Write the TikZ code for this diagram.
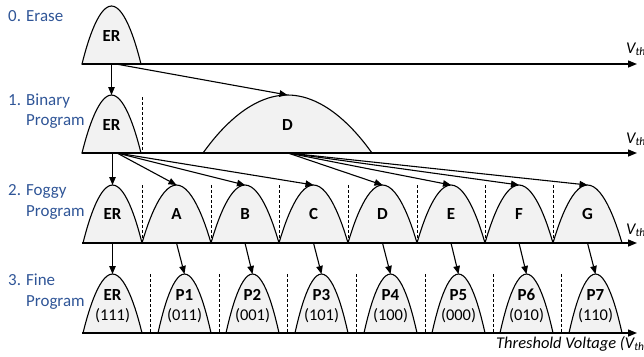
\documentclass[tikz,border=0pt]{standalone}
\usepackage{fontspec}
\setmainfont{Carlito}
\usetikzlibrary{arrows.meta,calc}
\definecolor{lblue}{RGB}{47,85,151}
\definecolor{bellfill}{RGB}{242,242,242}
\newcommand\mybell[5]{% name, x0, x1, base, top
  \coordinate (#1-t) at ({(#2+#3)/2},#5);
  \coordinate (#1-b) at ({(#2+#3)/2},#4);
  \path[bell] (#2,#4) parabola bend (#1-t) (#3,#4) -- cycle;
}
\begin{document}
\begin{tikzpicture}[x=1bp,y=-1bp,
  bell/.style={draw=black,line width=1.1bp,fill=bellfill},
  axis/.style={line width=1.4bp,-{Triangle[length=9bp,width=7bp]}},
  conn/.style={line width=1.1bp,-{Triangle[length=8bp,width=6.5bp]}},
  sep/.style={densely dashed,line width=0.9bp},
  lbl/.style={anchor=base west,inner sep=0pt,text=lblue,font=\fontsize{17}{20}\selectfont},
  blab/.style={inner sep=0pt,font=\bfseries\fontsize{17}{20}\selectfont},
  clab/.style={inner sep=0pt,font=\fontsize{16.5}{20}\selectfont},
  vlab/.style={anchor=base west,inner sep=0pt,font=\itshape\fontsize{16.5}{20}\selectfont}]
\useasboundingbox (0,0) rectangle (644,356);

% ---------- bells ----------
% row 0
\mybell{er0}{82}{141}{64}{6}
% row 1
\mybell{er1}{82}{141}{153}{95}
\mybell{d1}{203}{372}{153}{95}
% row 2
\mybell{er2}{83}{142}{243}{185}
\mybell{a2}{142}{211}{243}{185}
\mybell{b2}{211}{279}{243}{185}
\mybell{c2}{279}{348}{243}{185}
\mybell{d2}{348}{417}{243}{185}
\mybell{e2}{417}{485}{243}{185}
\mybell{f2}{485}{553}{243}{185}
\mybell{g2}{553}{622}{243}{185}
% row 3
\mybell{er3}{83}{142}{333}{274}
\mybell{p1}{158}{211}{333}{274}
\mybell{p2}{226}{279}{333}{274}
\mybell{p3}{295}{348}{333}{274}
\mybell{p4}{364}{417}{333}{274}
\mybell{p5}{432}{485}{333}{274}
\mybell{p6}{500}{553}{333}{274}
\mybell{p7}{569}{622}{333}{274}

% ---------- axes ----------
\foreach \n/\y in {0/64,1/153,2/243,3/333}{
  \coordinate (ax\n s) at (82,\y);
  \coordinate (ax\n e) at (637,\y);
  \draw[axis] (ax\n s) -- (ax\n e);
}

% ---------- dashed separators ----------
\coordinate (s1t) at (142,97); \coordinate (s1b) at (142,153);
\draw[sep] (s1t) -- (s1b);
\foreach \x [count=\i] in {142,211,279,348,417,485,553}{
  \coordinate (s2t\i) at (\x,185); \coordinate (s2b\i) at (\x,243);
  \draw[sep] (s2t\i) -- (s2b\i);
}
\foreach \x [count=\i] in {150,219,287,356,425,493,561}{
  \coordinate (s3t\i) at (\x,274); \coordinate (s3b\i) at (\x,333);
  \draw[sep] (s3t\i) -- (s3b\i);
}

% ---------- connectors ----------
\coordinate (f0) at (116,64);
\draw[conn] (er0-b) -- (er1-t);
\draw[conn] (f0) -- (d1-t);

\coordinate (f1) at (117,153);
\coordinate (er1v) at (112.5,153);
\draw[conn] (er1v) -- (er2-t);
\foreach \t in {a2,b2,c2}{\draw[conn] (f1) -- (\t-t);}
\coordinate (fd) at (288,153);
\foreach \t in {d2,e2,f2,g2}{\draw[conn] (fd) -- (\t-t);}

\draw[conn] (er2-b) -- (er3-t);
\foreach \s/\t in {a2/p1,b2/p2,c2/p3,d2/p4,e2/p5,f2/p6,g2/p7}{
  \draw[conn] (\s-b) -- (\t-t);
}

% ---------- bell labels ----------
\node[blab] (ler0) at (111.5,36) {ER};
\node[blab] (ler1) at (111.5,125) {ER};
\node[blab] (ld1) at (287.5,125) {D};
\foreach \n/\t in {er2/ER,a2/A,b2/B,c2/C,d2/D,e2/E,f2/F,g2/G}{
  \node[blab] (l\n) at ($(\n-t)+(0,29)$) {\t};
}
\foreach \n/\t/\c in {er3/ER/111,p1/P1/011,p2/P2/001,p3/P3/101,p4/P4/100,p5/P5/000,p6/P6/010,p7/P7/110}{
  \node[blab] (l\n) at ($(\n-t)+(0,21)$) {\t};
  \node[clab] (c\n) at ($(\n-t)+(0,42)$) {(\c)};
}

% ---------- axis labels ----------
\node[vlab] (v0) at (626,53) {V\textsubscript{th}};
\node[vlab] (v1) at (626,143) {V\textsubscript{th}};
\node[vlab] (v2) at (626,234) {V\textsubscript{th}};
\node[vlab] (v3) at (496,348) {Threshold Voltage (V\textsubscript{th})};

% ---------- stage labels ----------
\node[lbl] (st0) at (8,21) {\makebox[18bp][l]{0.}Erase};
\node[lbl] (st1a) at (8,105) {\makebox[18bp][l]{1.}Binary};
\node[lbl] (st1b) at (26,125) {Program};
\node[lbl] (st2a) at (8,195) {\makebox[18bp][l]{2.}Foggy};
\node[lbl] (st2b) at (26,216) {Program};
\node[lbl] (st3a) at (8,285) {\makebox[18bp][l]{3.}Fine};
\node[lbl] (st3b) at (26,306) {Program};
\end{tikzpicture}
\end{document}
